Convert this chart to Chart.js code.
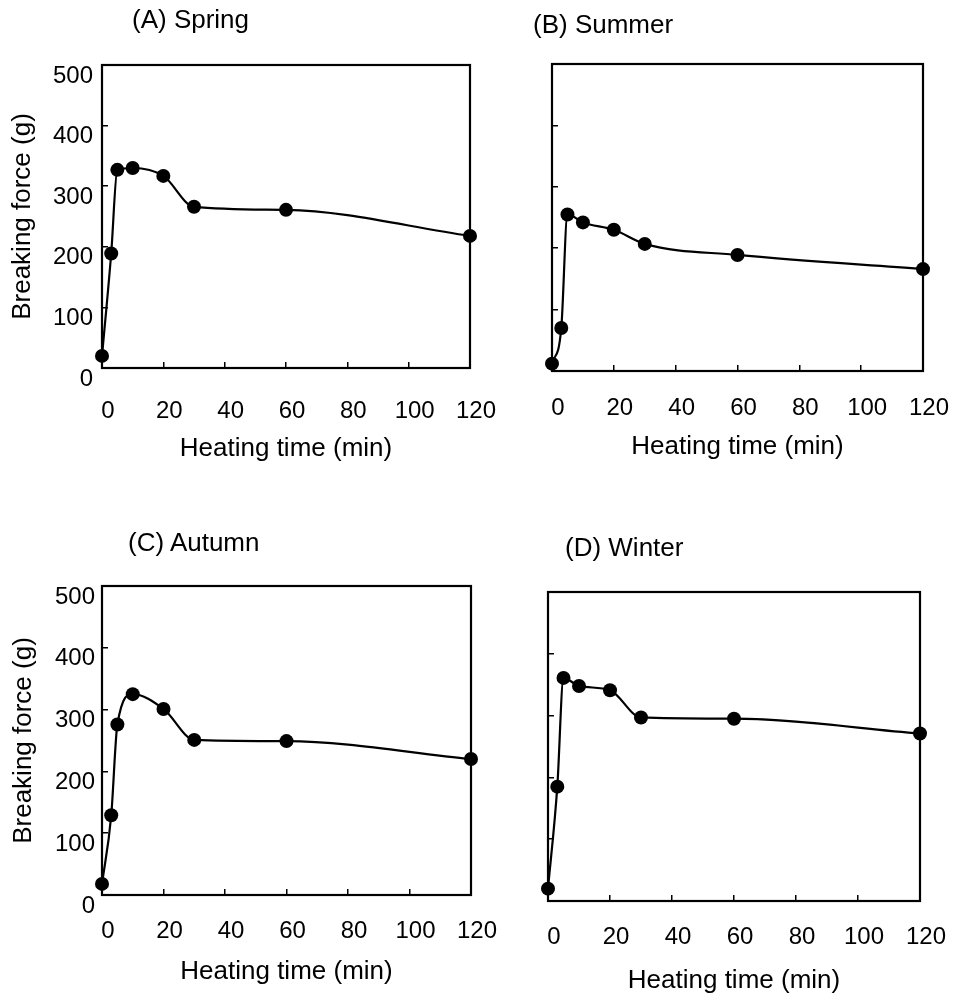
<!DOCTYPE html>
<html><head><meta charset="utf-8">
<script src="https://cdn.jsdelivr.net/npm/chart.js@4/dist/chart.umd.min.js"></script>
<style>
html,body{margin:0;padding:0;background:#fff;}
body{width:963px;height:1003px;position:relative;overflow:hidden;font-family:"Liberation Sans",Arial,sans-serif;}
.panel{position:absolute;}
.ttl{position:absolute;font-size:26px;line-height:26px;color:#000;white-space:nowrap;z-index:2;}
canvas{display:block;}
</style></head><body>
<script>
// ---- data ----
const heatingTime = [0, 3, 5, 10, 20, 30, 60, 120];
const springForce = [20, 189, 327, 330, 317, 266, 261, 218];
const summerForce = [12, 70, 255, 242, 230, 207, 189, 166];
const autumnForce = [18, 129, 276, 325, 301, 251, 249, 220];
const winterForce = [20, 185, 361, 348, 341, 297, 295, 271];
const xTickValues = [0, 20, 40, 60, 80, 100, 120];
const yTickValues = [0, 100, 200, 300, 400, 500];
const panelTitles = ['(A) Spring', '(B) Summer', '(C) Autumn', '(D) Winter'];
const xAxisTitle = 'Heating time (min)';
const yAxisTitle = 'Breaking force (g)';

// ---- layout (positions only) ----
const panels = [
  {series: springForce, left:0,   top:0,   w:500, h:480, areaL:102, padT:65, padR:30, xH:112, xLabPad:35, xTitlePad:16, showY:true,  yTitlePad:7, yLabPad:15, tx:132, ty:6},
  {series: summerForce, left:500, top:0,   w:463, h:480, areaL:52,  padT:64, padR:40, xH:109, xLabPad:29, xTitlePad:18, showY:false, tx:533, ty:11},
  {series: autumnForce, left:0,   top:500, w:500, h:503, areaL:102, padT:86, padR:29, xH:108, xLabPad:28, xTitlePad:16, showY:true,  yTitlePad:8, yLabPad:13, tx:128, ty:529},
  {series: winterForce, left:500, top:500, w:463, h:503, areaL:48,  padT:92, padR:43, xH:102, xLabPad:28, xTitlePad:7,  showY:false, tx:565, ty:534}
];

Chart.defaults.font.family = '"Liberation Sans", Arial, sans-serif';
Chart.defaults.color = '#000';

const framePlugin = {
  id: 'frame',
  beforeDatasetsDraw(chart) {
    const a = chart.chartArea, ctx = chart.ctx;
    ctx.save();
    ctx.strokeStyle = '#000';
    ctx.lineWidth = 2.2;
    ctx.strokeRect(a.left, a.top, a.right - a.left, a.bottom - a.top);
    ctx.restore();
  }
};

panels.forEach((p, i) => {
  const div = document.createElement('div');
  div.className = 'panel';
  div.style.left = p.left + 'px';
  div.style.top = p.top + 'px';
  const cv = document.createElement('canvas');
  cv.width = p.w; cv.height = p.h;
  div.appendChild(cv);
  document.body.appendChild(div);

  const t = document.createElement('div');
  t.className = 'ttl';
  t.textContent = panelTitles[i];
  t.style.left = p.tx + 'px';
  t.style.top = p.ty + 'px';
  document.body.appendChild(t);

  new Chart(cv, {
    type: 'line',
    data: {
      datasets: [{
        data: heatingTime.map((x, k) => ({x: x, y: p.series[k]})),
        borderColor: '#000',
        backgroundColor: '#000',
        borderWidth: 2.2,
        pointRadius: 7,
        pointBackgroundColor: '#000',
        pointBorderWidth: 0,
        cubicInterpolationMode: 'monotone',
        clip: false,
        fill: false
      }]
    },
    options: {
      responsive: false,
      animation: false,
      events: [],
      layout: {padding: {top: p.padT, right: p.padR, bottom: 0, left: 0}},
      plugins: {legend: {display: false}, tooltip: {enabled: false}, title: {display: false}},
      scales: {
        x: {
          type: 'linear', min: 0, max: 120,
          afterBuildTicks: s => { s.ticks = xTickValues.map(v => ({value: v})); },
          afterFit: s => { s.height = p.xH; s.paddingLeft = 0; s.paddingRight = 0; },
          border: {display: false},
          grid: {drawOnChartArea: false, drawTicks: true, tickLength: -6, color: '#000', lineWidth: 1.5},
          ticks: {font: {size: 24}, color: '#000', padding: p.xLabPad, labelOffset: 6, maxRotation: 0, autoSkip: false},
          title: {display: true, text: xAxisTitle, font: {size: 26}, color: '#000', padding: {top: 0, bottom: p.xTitlePad}}
        },
        y: {
          type: 'linear', min: 0, max: 500,
          afterBuildTicks: s => { s.ticks = yTickValues.map(v => ({value: v})); },
          afterFit: s => { s.width = p.areaL; s.paddingTop = 0; s.paddingBottom = 0; },
          border: {display: false},
          grid: {drawOnChartArea: false, drawTicks: true, tickLength: -6, color: '#000', lineWidth: 1.5},
          ticks: {display: p.showY, font: {size: 24}, color: '#000', padding: p.yLabPad || 10, labelOffset: 11, autoSkip: false},
          title: {display: p.showY, text: yAxisTitle, font: {size: 26}, color: '#000', padding: {top: p.yTitlePad || 0, bottom: 0}}
        }
      }
    },
    plugins: [framePlugin]
  });
});
</script>
</body></html>
